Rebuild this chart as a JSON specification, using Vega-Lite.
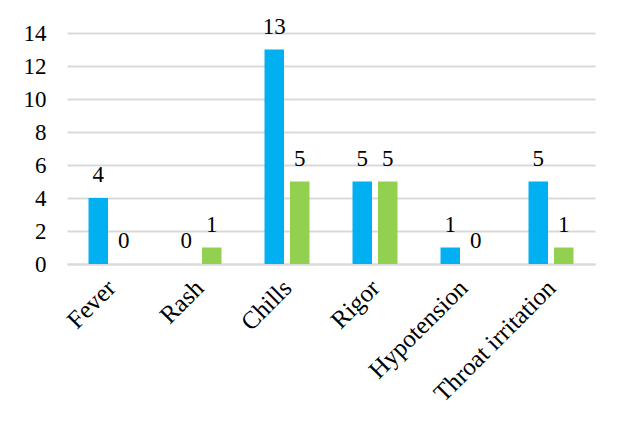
{
  "$schema": "https://vega.github.io/schema/vega-lite/v6.json",
  "autosize": "none",
  "width": 528,
  "height": 231,
  "padding": {"left": 67, "top": 33, "right": 25, "bottom": 159},
  "background": "white",
  "config": {
    "view": {"stroke": null},
    "font": "Liberation Serif",
    "text": {"font": "Liberation Serif"},
    "axis": {"labelFont": "Liberation Serif"}
  },
  "data": {
    "values": [
      {"symptom": "Fever", "series": "Series 1", "count": 4},
      {"symptom": "Fever", "series": "Series 2", "count": 0},
      {"symptom": "Rash", "series": "Series 1", "count": 0},
      {"symptom": "Rash", "series": "Series 2", "count": 1},
      {"symptom": "Chills", "series": "Series 1", "count": 13},
      {"symptom": "Chills", "series": "Series 2", "count": 5},
      {"symptom": "Rigor", "series": "Series 1", "count": 5},
      {"symptom": "Rigor", "series": "Series 2", "count": 5},
      {"symptom": "Hypotension", "series": "Series 1", "count": 1},
      {"symptom": "Hypotension", "series": "Series 2", "count": 0},
      {"symptom": "Throat irritation", "series": "Series 1", "count": 5},
      {"symptom": "Throat irritation", "series": "Series 2", "count": 1}
    ]
  },
  "encoding": {
    "x": {
      "field": "symptom",
      "type": "nominal",
      "sort": null,
      "scale": {"paddingInner": 0.489, "paddingOuter": 0.2445},
      "axis": {
        "title": null,
        "labelAngle": -45,
        "labelAlign": "right",
        "labelBaseline": "top",
        "labelFontSize": 25,
        "labelColor": "black",
        "labelPadding": 11,
        "labelOffset": -8,
        "ticks": false,
        "domain": true,
        "domainColor": "#D9D9D9",
        "domainWidth": 2,
        "grid": false
      }
    },
    "xOffset": {
      "field": "series",
      "type": "nominal",
      "scale": {"paddingInner": 0.235}
    },
    "y": {
      "field": "count",
      "type": "quantitative",
      "scale": {"domain": [0, 14], "nice": false},
      "axis": {
        "title": null,
        "values": [0, 2, 4, 6, 8, 10, 12, 14],
        "labelFontSize": 23,
        "labelColor": "black",
        "labelPadding": 21,
        "ticks": false,
        "domain": false,
        "grid": true,
        "gridColor": "#D9D9D9",
        "gridWidth": 2
      }
    }
  },
  "layer": [
    {
      "mark": {"type": "bar"},
      "encoding": {
        "color": {
          "field": "series",
          "type": "nominal",
          "scale": {"range": ["#00B0F0", "#92D050"]},
          "legend": null
        }
      }
    },
    {
      "mark": {"type": "text", "baseline": "alphabetic", "dy": -16, "fontSize": 23, "color": "black", "font": "Liberation Serif"},
      "encoding": {
        "text": {"field": "count", "type": "quantitative"}
      }
    }
  ]
}
